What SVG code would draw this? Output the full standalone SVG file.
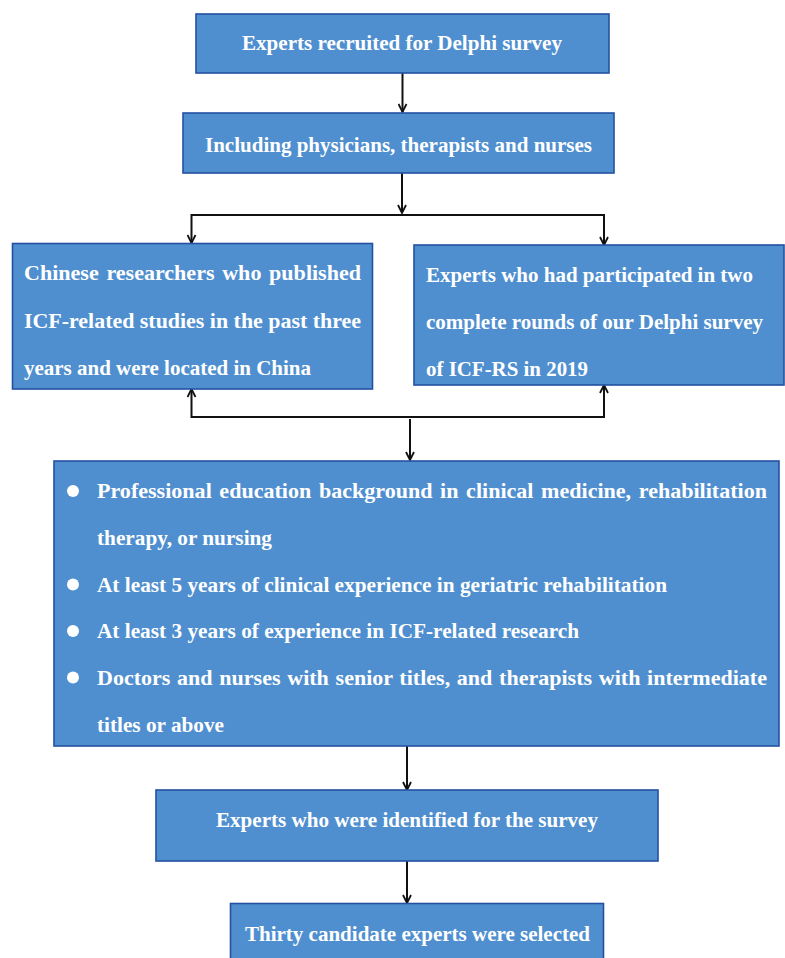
<svg xmlns="http://www.w3.org/2000/svg" width="785" height="958" viewBox="0 0 785 958">
<style>
.box{fill:#4f8fcf;stroke:#2350a0;stroke-width:1.6}
.t{font-family:"Liberation Serif","Times New Roman",serif;font-weight:bold;font-size:22px;fill:#ffffff}
.line{fill:none;stroke:#111;stroke-width:2}
.dot{fill:#ffffff}
</style>
<defs>
<marker id="ah" viewBox="0 0 10 10" refX="9" refY="5" markerWidth="10" markerHeight="10" markerUnits="userSpaceOnUse" orient="auto-start-reverse">
<path d="M1,1 L9,5 L1,9" fill="none" stroke="#111" stroke-width="1.8"/>
</marker>
</defs>
<rect width="785" height="958" fill="#ffffff"/>
<g id="connectors">
<line class="line" x1="402.5" y1="73" x2="402.5" y2="112" marker-end="url(#ah)"/>
<line class="line" x1="402" y1="173" x2="402" y2="213" marker-end="url(#ah)"/>
<path class="line" d="M191.5,243 L191.5,215 L604,215 L604,245" marker-start="url(#ah)" marker-end="url(#ah)"/>
<path class="line" d="M191.5,389 L191.5,417 L604,417 L604,385" marker-start="url(#ah)" marker-end="url(#ah)"/>
<line class="line" x1="410" y1="419" x2="410" y2="460" marker-end="url(#ah)"/>
<line class="line" x1="407" y1="746" x2="407" y2="790" marker-end="url(#ah)"/>
<line class="line" x1="407" y1="861" x2="407" y2="903" marker-end="url(#ah)"/>
</g>
<g id="n1">
<rect class="box" x="196" y="14" width="413" height="59"/>
<text class="t" x="242" y="50" textLength="320" lengthAdjust="spacingAndGlyphs">Experts recruited for Delphi survey</text>
</g>
<g id="n2">
<rect class="box" x="183" y="113" width="431" height="60"/>
<text class="t" x="205" y="151.5" textLength="387" lengthAdjust="spacingAndGlyphs">Including physicians, therapists and nurses</text>
</g>
<g id="n3">
<rect class="box" x="12.5" y="243.5" width="360" height="145.5"/>
<text class="t" x="24" y="280" word-spacing="2.2" textLength="337" lengthAdjust="spacingAndGlyphs">Chinese researchers who published</text>
<text class="t" x="24" y="328" textLength="337" lengthAdjust="spacingAndGlyphs">ICF-related studies in the past three</text>
<text class="t" x="24" y="375" textLength="287" lengthAdjust="spacingAndGlyphs">years and were located in China</text>
</g>
<g id="n4">
<rect class="box" x="414" y="245" width="370" height="140"/>
<text class="t" x="426" y="282" textLength="327" lengthAdjust="spacingAndGlyphs">Experts who had participated in two</text>
<text class="t" x="426" y="329" textLength="337" lengthAdjust="spacingAndGlyphs">complete rounds of our Delphi survey</text>
<text class="t" x="426" y="376" textLength="162" lengthAdjust="spacingAndGlyphs">of ICF-RS in 2019</text>
</g>
<g id="n5">
<rect class="box" x="54" y="461" width="725" height="285"/>
<circle class="dot" cx="73" cy="491" r="6"/>
<circle class="dot" cx="73" cy="584.5" r="6"/>
<circle class="dot" cx="73" cy="631" r="6"/>
<circle class="dot" cx="73" cy="677.5" r="6"/>
<text class="t" x="97" y="498" word-spacing="2.1" textLength="670" lengthAdjust="spacingAndGlyphs">Professional education background in clinical medicine, rehabilitation</text>
<text class="t" x="97" y="545" textLength="175" lengthAdjust="spacingAndGlyphs">therapy, or nursing</text>
<text class="t" x="97" y="592" textLength="570" lengthAdjust="spacingAndGlyphs">At least 5 years of clinical experience in geriatric rehabilitation</text>
<text class="t" x="97" y="638" textLength="482" lengthAdjust="spacingAndGlyphs">At least 3 years of experience in ICF-related research</text>
<text class="t" x="97" y="685" word-spacing="1.2" textLength="670" lengthAdjust="spacingAndGlyphs">Doctors and nurses with senior titles, and therapists with intermediate</text>
<text class="t" x="97" y="732" textLength="127" lengthAdjust="spacingAndGlyphs">titles or above</text>
</g>
<g id="n6">
<rect class="box" x="156" y="790" width="502" height="71"/>
<text class="t" x="216" y="827" textLength="382" lengthAdjust="spacingAndGlyphs">Experts who were identified for the survey</text>
</g>
<g id="n7">
<rect class="box" x="230.5" y="903.5" width="373" height="70"/>
<text class="t" x="245" y="941" textLength="345" lengthAdjust="spacingAndGlyphs">Thirty candidate experts were selected</text>
</g>
</svg>
